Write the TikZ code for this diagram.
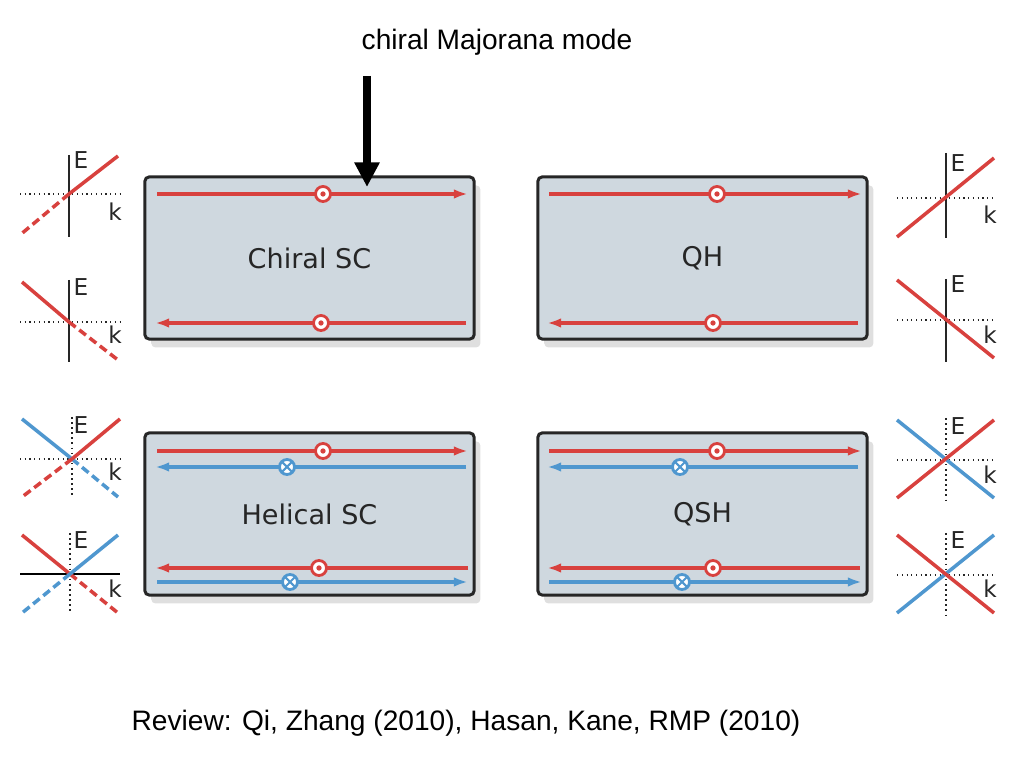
\documentclass[tikz,border=0pt]{standalone}
\usepackage{fontspec}
\setmainfont{Liberation Sans}
\newfontfamily\boxfont{DejaVu Sans}
\usetikzlibrary{arrows.meta,shadows}

\definecolor{edgered}{HTML}{D8413E}
\definecolor{edgeblue}{HTML}{4F97CF}
\definecolor{boxgray}{HTML}{CFD8DF}

\begin{document}
\begin{tikzpicture}[x=0.01cm, y=-0.01cm,
	phase/.style={draw=black!85, line width=0.85pt, fill=boxgray, rounded corners=1.2pt,
		minimum width=3.29cm, minimum height=1.62cm, inner sep=0pt,
		drop shadow={shadow xshift=1.8pt, shadow yshift=-2.4pt, opacity=0.25},
		font=\boxfont\fontsize{7.7}{9}\selectfont, text=black!85},
	redge/.style={edgered, line width=0.95pt, -{Latex[length=4pt,width=2.7pt]}},
	bedge/.style={edgeblue, line width=0.95pt, -{Latex[length=4pt,width=2.7pt]}},
	odot/.style={draw=edgered, circle, line width=0.8pt, fill=white, minimum size=0.15cm, inner sep=0pt,
		path picture={\fill[edgered] (path picture bounding box.center) circle (0.75pt);}},
	otimes/.style={draw=edgeblue, circle, line width=0.8pt, fill=white, minimum size=0.15cm, inner sep=0pt,
		path picture={\draw[edgeblue, line width=0.6pt] (path picture bounding box.north west) -- (path picture bounding box.south east)
			(path picture bounding box.north east) -- (path picture bounding box.south west);}},
	haxis/.style={black!85, line width=0.35pt, densely dotted},
	vaxis/.style={black!85, line width=0.45pt},
	disp/.style={line width=1pt},
	dispdash/.style={line width=1pt, dash pattern=on 2.4pt off 1.3pt},
	lbl/.style={font=\boxfont\fontsize{6.6}{8}\selectfont, inner sep=0pt, text=black!85}]

	\useasboundingbox (0,0) rectangle (1024,768);

	%texts
	\node[font=\fontsize{8}{10}\selectfont] (title) at (497,42){chiral Majorana mode};
	\node[font=\fontsize{8}{10}\selectfont] (review) at (466,723){Review: Qi, Zhang (2010), Hasan, Kane, RMP (2010)};

	%phases
	\node[phase] (chiral) at (309.5,258){Chiral SC};
	\node[phase] (qh) at (702.5,258){QH};
	\node[phase] (helical) at (309.5,514){Helical SC};
	\node[phase] (qsh) at (702.5,514){QSH};

	%majorana arrow
	\coordinate (majtop) at (367,76);
	\coordinate (majtip) at (367,187);
	\draw[line width=2.3pt, -{Triangle[length=7pt,width=6.8pt]}] (majtop) -- (majtip);

	%chiral SC edges
	\coordinate (c1a) at (157,194);
	\coordinate (c1b) at (468,194);
	\coordinate (c2a) at (466,323);
	\coordinate (c2b) at (155,323);
	\draw[redge] (c1a) -- (c1b);
	\draw[redge] (c2a) -- (c2b);
	\node[odot] (c1s) at (323,194){};
	\node[odot] (c2s) at (321,323){};

	%QH edges
	\coordinate (q1a) at (549,194);
	\coordinate (q1b) at (862,194);
	\coordinate (q2a) at (858,323);
	\coordinate (q2b) at (547,323);
	\draw[redge] (q1a) -- (q1b);
	\draw[redge] (q2a) -- (q2b);
	\node[odot] (q1s) at (717,194){};
	\node[odot] (q2s) at (713,323){};

	%helical SC edges
	\coordinate (h1a) at (157,451);
	\coordinate (h1b) at (468,451);
	\coordinate (h2a) at (466,467);
	\coordinate (h2b) at (155,467);
	\coordinate (h3a) at (468,568);
	\coordinate (h3b) at (155,568);
	\coordinate (h4a) at (157,582);
	\coordinate (h4b) at (468,582);
	\draw[redge] (h1a) -- (h1b);
	\draw[bedge] (h2a) -- (h2b);
	\draw[redge] (h3a) -- (h3b);
	\draw[bedge] (h4a) -- (h4b);
	\node[odot] (h1s) at (323,451){};
	\node[otimes] (h2s) at (287,467){};
	\node[odot] (h3s) at (319,568){};
	\node[otimes] (h4s) at (290,582){};

	%QSH edges
	\coordinate (s1a) at (549,451);
	\coordinate (s1b) at (862,451);
	\coordinate (s2a) at (858,467);
	\coordinate (s2b) at (547,467);
	\coordinate (s3a) at (860,568);
	\coordinate (s3b) at (547,568);
	\coordinate (s4a) at (549,582);
	\coordinate (s4b) at (862,582);
	\draw[redge] (s1a) -- (s1b);
	\draw[bedge] (s2a) -- (s2b);
	\draw[redge] (s3a) -- (s3b);
	\draw[bedge] (s4a) -- (s4b);
	\node[odot] (s1s) at (717,451){};
	\node[otimes] (s2s) at (680,467){};
	\node[odot] (s3s) at (713,568){};
	\node[otimes] (s4s) at (682,582){};

	%dispersions, chiral SC
	\draw[haxis] (20,194) -- (120,194);
	\draw[vaxis, line width=0.7pt] (69,155) -- (69,237);
	\draw[edgered, disp] (69,194) -- (118,156);
	\draw[edgered, dispdash] (69,194) -- (20,235);
	\node[lbl] (e1) at (81,160){E};
	\node[lbl] (k1) at (115,212){k};

	\draw[haxis] (20,322) -- (120,322);
	\draw[vaxis, line width=0.7pt] (69,280) -- (69,362);
	\draw[edgered, disp] (69,322) -- (22,282);
	\draw[edgered, dispdash] (69,322) -- (118,360);
	\node[lbl] (e2) at (81,287){E};
	\node[lbl] (k2) at (115,335){k};

	%dispersions, QH
	\draw[haxis] (897,198) -- (995,198);
	\draw[vaxis] (946,153) -- (946,238);
	\draw[edgered, disp] (897,237) -- (994,158);
	\node[lbl] (e3) at (958,163){E};
	\node[lbl] (k3) at (990,215){k};

	\draw[haxis] (897,320) -- (995,320);
	\draw[vaxis] (946,279) -- (946,362);
	\draw[edgered, disp] (897,280) -- (994,358);
	\node[lbl] (e4) at (958,284){E};
	\node[lbl] (k4) at (990,335){k};

	%dispersions, helical SC
	\draw[haxis] (20,459) -- (120,459);
	\draw[vaxis, densely dotted] (72,417) -- (72,498);
	\draw[edgeblue, disp] (22,419) -- (72,459);
	\draw[edgeblue, dispdash] (72,459) -- (118,497);
	\draw[edgered, disp] (72,459) -- (120,419);
	\draw[edgered, dispdash] (72,459) -- (22,497);
	\node[lbl] (e5) at (81,425){E};
	\node[lbl] (k5) at (115,472){k};

	\draw[black, line width=0.6pt] (20,574) -- (120,574);
	\draw[vaxis, densely dotted] (70,533) -- (70,613);
	\draw[edgered, disp] (22,535) -- (70,574);
	\draw[edgered, dispdash] (70,574) -- (118,613);
	\draw[edgeblue, disp] (70,574) -- (118,535);
	\draw[edgeblue, dispdash] (70,574) -- (22,613);
	\node[lbl] (e6) at (81,540){E};
	\node[lbl] (k6) at (115,589){k};

	%dispersions, QSH
	\draw[haxis] (897,460) -- (995,460);
	\draw[vaxis, densely dotted] (946,418) -- (946,500);
	\draw[edgeblue, disp] (897,420) -- (994,498);
	\draw[edgered, disp] (897,498) -- (994,420);
	\node[lbl] (e7) at (958,426){E};
	\node[lbl] (k7) at (990,475){k};

	\draw[haxis] (897,575) -- (995,575);
	\draw[vaxis, densely dotted] (946,533) -- (946,615);
	\draw[edgeblue, disp] (897,613) -- (994,535);
	\draw[edgered, disp] (897,535) -- (994,613);
	\node[lbl] (e8) at (958,540){E};
	\node[lbl] (k8) at (990,589){k};

\end{tikzpicture}
\end{document}
